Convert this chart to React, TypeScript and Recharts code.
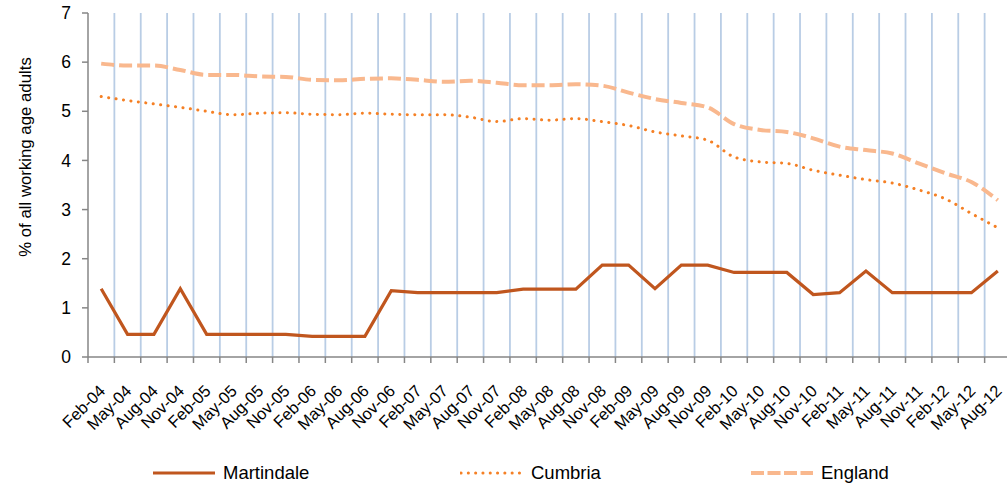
import React from 'react';
import { LineChart, Line, XAxis, YAxis, CartesianGrid, Legend, Label } from 'recharts';

const categories = [
  'Feb-04', 'May-04', 'Aug-04', 'Nov-04',
  'Feb-05', 'May-05', 'Aug-05', 'Nov-05',
  'Feb-06', 'May-06', 'Aug-06', 'Nov-06',
  'Feb-07', 'May-07', 'Aug-07', 'Nov-07',
  'Feb-08', 'May-08', 'Aug-08', 'Nov-08',
  'Feb-09', 'May-09', 'Aug-09', 'Nov-09',
  'Feb-10', 'May-10', 'Aug-10', 'Nov-10',
  'Feb-11', 'May-11', 'Aug-11', 'Nov-11',
  'Feb-12', 'May-12', 'Aug-12',
];

const martindale = [
  1.39, 0.46, 0.46, 1.39,
  0.46, 0.46, 0.46, 0.46,
  0.42, 0.42, 0.42, 1.35,
  1.31, 1.31, 1.31, 1.31,
  1.38, 1.38, 1.38, 1.87,
  1.87, 1.39, 1.87, 1.87,
  1.72, 1.72, 1.72, 1.27,
  1.31, 1.75, 1.31, 1.31,
  1.31, 1.31, 1.75,
];

const cumbria = [
  5.30, 5.22, 5.15, 5.08,
  5.00, 4.93, 4.96, 4.97,
  4.94, 4.93, 4.96, 4.94,
  4.93, 4.93, 4.88, 4.79,
  4.85, 4.82, 4.85, 4.79,
  4.71, 4.58, 4.50, 4.41,
  4.07, 3.97, 3.94, 3.80,
  3.70, 3.61, 3.54, 3.40,
  3.22, 2.92, 2.63,
];

const england = [
  5.97, 5.93, 5.93, 5.84,
  5.74, 5.74, 5.71, 5.70,
  5.64, 5.63, 5.66, 5.67,
  5.64, 5.60, 5.62, 5.58,
  5.53, 5.53, 5.55, 5.52,
  5.38, 5.25, 5.17, 5.08,
  4.74, 4.62, 4.58, 4.45,
  4.28, 4.21, 4.14, 3.94,
  3.74, 3.56, 3.19,
];

const yTicks = [0, 1, 2, 3, 4, 5, 6, 7];

const data = categories.map((c, i) => ({
  month: c,
  Martindale: martindale[i],
  Cumbria: cumbria[i],
  England: england[i],
}));

const CHART_W = 1020;
const CHART_H = 488;
const MARGIN = { top: 13, right: 9, bottom: 0, left: 0 };
const Y_W = 88;
const PLOT_W = CHART_W - MARGIN.right - MARGIN.left - Y_W;
const STEP = PLOT_W / categories.length;

const FONT = '"Liberation Sans", Arial, sans-serif';
const AXIS = '#868686';
const GRID = '#B9CDE5';
const C_MART = '#C0561E';
const C_CUMB = '#F58025';
const C_ENG = '#F9B88E';

const XTick = (props: any) => {
  const { x, y, payload } = props;
  const bx = x - STEP / 2;
  const ax = x + 5;
  const ay = y + 29;
  return (
    <g>
      <line x1={bx} y1={y - 6} x2={bx} y2={y} stroke={AXIS} strokeWidth={1.5} />
      <text
        x={ax}
        y={ay}
        textAnchor="end"
        fontSize={16.5}
        fontFamily={FONT}
        fill="#000"
        transform={`rotate(-45, ${ax}, ${ay})`}
      >
        {payload.value}
      </text>
    </g>
  );
};

const LegendContent = () => {
  const items = [
    { name: 'Martindale', color: C_MART, dash: undefined, width: 3.2, cap: 'butt', left: 152 },
    { name: 'Cumbria', color: C_CUMB, dash: '0.1 7.2', width: 3, cap: 'round', left: 460 },
    { name: 'England', color: C_ENG, dash: '13 3.5', width: 4, cap: 'butt', left: 750 },
  ];
  return (
    <div style={{ position: 'relative', width: 1007, height: 30 }}>
      {items.map((it) => (
        <div
          key={it.name}
          style={{
            position: 'absolute',
            left: it.left,
            top: 0,
            height: 30,
            display: 'flex',
            alignItems: 'center',
          }}
        >
          <svg width={64} height={10} style={{ display: 'block' }}>
            <line
              x1={1}
              y1={5}
              x2={63}
              y2={5}
              stroke={it.color}
              strokeWidth={it.width}
              strokeDasharray={it.dash}
              strokeLinecap={it.cap as any}
            />
          </svg>
          <span
            style={{
              marginLeft: 7,
              fontFamily: FONT,
              fontSize: 18.5,
              color: '#000',
              lineHeight: '30px',
            }}
          >
            {it.name}
          </span>
        </div>
      ))}
    </div>
  );
};

export default function App() {
  return (
    <div
      style={{
        position: 'absolute',
        left: 0,
        top: 0,
        width: 1007,
        height: 488,
        overflow: 'hidden',
        background: '#fff',
      }}
    >
      <LineChart width={CHART_W} height={CHART_H} data={data} margin={MARGIN}>
        <CartesianGrid
          horizontal={false}
          stroke={GRID}
          strokeWidth={1.8}
          verticalCoordinatesGenerator={({ offset }: any) => {
            const pts: number[] = [];
            for (let k = 1; k <= categories.length; k++) {
              pts.push(offset.left + (offset.width * k) / categories.length);
            }
            return pts;
          }}
        />
        <XAxis
          dataKey="month"
          scale="band"
          interval={0}
          height={101}
          tickSize={6}
          tickMargin={0}
          tickLine={false}
          axisLine={{ stroke: AXIS, strokeWidth: 1.5 }}
          tick={<XTick />}
        />
        <YAxis
          domain={[0, 7]}
          ticks={yTicks}
          width={Y_W}
          tickSize={6}
          tickMargin={11}
          axisLine={{ stroke: AXIS, strokeWidth: 1.5 }}
          tickLine={{ stroke: AXIS, strokeWidth: 1.5 }}
          tick={{ fontSize: 17.5, fontFamily: FONT, fill: '#000' }}
          allowDecimals={false}
        >
          <Label
            content={({ viewBox }: any) => {
              const cx = viewBox.x + 25;
              const cy = viewBox.y + viewBox.height / 2 - 28;
              return (
                <text
                  x={cx}
                  y={cy}
                  textAnchor="middle"
                  dominantBaseline="central"
                  fontSize={16.8}
                  fontFamily={FONT}
                  fill="#000"
                  transform={`rotate(-90, ${cx}, ${cy})`}
                >
                  % of all working age adults
                </text>
              );
            }}
          />
        </YAxis>
        <Legend
          verticalAlign="bottom"
          height={30}
          content={<LegendContent />}
          wrapperStyle={{ left: 0, width: 1007 }}
        />
        <Line
          type="linear"
          dataKey="Martindale"
          stroke={C_MART}
          strokeWidth={3.2}
          dot={false}
          activeDot={false}
          isAnimationActive={false}
          strokeLinejoin="miter"
        />
        <Line
          type="monotone"
          dataKey="Cumbria"
          stroke={C_CUMB}
          strokeWidth={3}
          strokeDasharray="0.1 7.4"
          strokeLinecap="round"
          dot={false}
          activeDot={false}
          isAnimationActive={false}
        />
        <Line
          type="monotone"
          dataKey="England"
          stroke={C_ENG}
          strokeWidth={4}
          strokeDasharray="13 5"
          dot={false}
          activeDot={false}
          isAnimationActive={false}
        />
      </LineChart>
    </div>
  );
}
